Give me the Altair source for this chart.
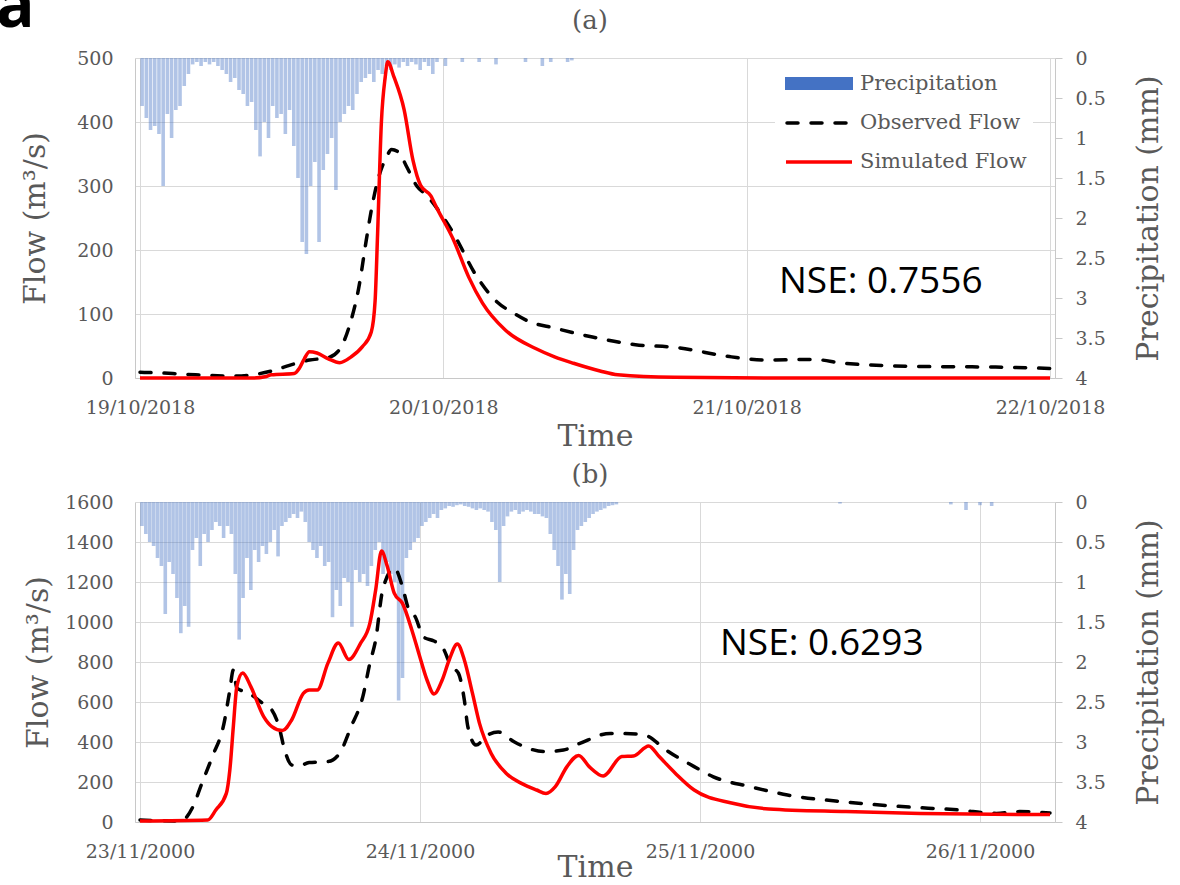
import altair as alt
import pandas as pd

# ---------------- data ----------------
# Precipitation depth (mm) in 20-minute steps, starting at the first day of each panel
rain_a = [
    0.6, 0.75, 0.9,  0.85, 0.95, 1.6,  0.7, 1.0, 0.65,  0.6, 0.35, 0.2,
    0.08, 0.05, 0.1,  0.05, 0.08, 0.05,  0.1, 0.15, 0.2,  0.3, 0.25, 0.4,
    0.45, 0.6, 0.55,  0.9, 1.23, 0.8,  1.0, 0.6, 0.75,  0.7, 0.95, 0.65,
    1.1, 1.5, 2.3,  2.45, 1.6, 1.3,  2.3, 1.4, 1.2,  1.0, 1.65, 0.8,
    0.7, 0.6, 0.65,  0.45, 0.3, 0.25,  0.2, 0.3, 0.15,  0.2, 0.1, 0.15,
    0.08, 0.12, 0.05,  0.1, 0.05, 0.08,  0.15, 0.05, 0.1,  0.2, 0.05, 0.0,
    0.1, 0.0, 0.0,  0.0, 0.05, 0.0,  0.0, 0.0, 0.05,  0.0, 0.0, 0.0,
    0.08, 0.0, 0.0,  0.0, 0.0, 0.0,  0.0, 0.05, 0.0,  0.0, 0.0, 0.1,
    0.0, 0.05, 0.0,  0.0, 0.0, 0.05,  0.03, 0.0, 0.0,
]
rain_b = [
    0.3, 0.4, 0.5,  0.55, 0.7, 0.8,  1.4, 0.75, 0.9,  1.2, 1.64, 1.3,
    1.56, 0.6, 0.45,  0.8, 0.4, 0.5,  0.35, 0.25, 0.3,  0.45, 0.3, 0.4,
    0.9, 1.72, 1.2,  0.7, 1.1, 0.6,  0.75, 0.55, 0.65,  0.5, 0.35, 0.68,
    0.3, 0.25, 0.2,  0.15, 0.2, 0.12,  0.25, 0.5, 0.6,  0.7, 0.55, 0.8,
    0.75, 1.44, 1.1,  1.3, 0.95, 1.0,  1.56, 0.85, 1.0,  0.9, 1.05, 0.8,
    0.6, 0.5, 0.9,  0.75, 0.9, 1.0,  2.48, 2.2, 0.7,  0.6, 0.5, 0.45,
    0.3, 0.25, 0.2,  0.15, 0.2, 0.1,  0.08, 0.05, 0.06,  0.04, 0.03, 0.05,
    0.06, 0.08, 0.1,  0.08, 0.1, 0.12,  0.25, 0.35, 1.0,  0.3, 0.18, 0.12,
    0.1, 0.15, 0.12,  0.1, 0.12, 0.15,  0.15, 0.18, 0.2,  0.4, 0.6, 0.8,
    1.22, 0.9, 1.15,  0.6, 0.35, 0.3,  0.25, 0.2, 0.15,  0.12, 0.1, 0.08,
    0.05, 0.04, 0.03,
]
# a few isolated late showers in panel (b): hour since start, mm
rain_b_late_h = [60.0, 69.5, 70.8, 72.0, 73.0]
rain_b_late_mm = [0.02, 0.03, 0.1, 0.04, 0.05]

# Flows (m3/s): hours since the first day of each panel
obs_a_h = [0, 2.6, 4.4, 7.4, 8.9, 10.4, 12.2, 13.4, 14.9, 15.8, 16.7, 17.3, 17.9, 18.3,
           18.9, 19.5, 19.9, 20.5, 21.1, 21.9, 22.7, 23.5, 24.8, 26.6, 28.3, 29.6, 30.7,
           32.8, 35.8, 39.2, 42.3, 46.8, 49.7, 53.3, 55.7, 61.7, 67.7, 72]
obs_a_q = [9, 7, 5, 3, 5, 11, 22, 28, 32, 45, 90, 140, 215, 262,
           315, 345, 357, 352, 330, 300, 285, 265, 226, 160, 118, 101, 89,
           78, 64, 52, 48, 33, 28, 29, 23, 18, 17, 15]
sim_a_h = [0, 8.9, 9.9, 10.4, 12.2, 12.6, 13.0, 13.4, 14.0, 14.9, 15.8, 16.7, 17.6,
           18.3, 18.6, 18.8, 19.1, 19.4, 19.6, 20.1, 20.9, 21.6, 22.2, 23.0, 23.5,
           24.8, 26.0, 27.1, 28.9, 31.3, 32.8, 34.3, 36.4, 37.8, 42.3, 50, 72]
sim_a_q = [0, 0, 2, 5, 7, 15, 30, 41, 39, 30, 24, 33, 49,
           72, 120, 226, 400, 470, 494, 470, 419, 340, 301, 285, 265,
           216, 158, 117, 75, 46, 33, 23, 11, 5, 1, 0, 0]
obs_b_h = [0, 3.5, 4.5, 5.3, 6.2, 7.2, 7.7, 8.0, 8.3, 9.3, 10.6, 11.3, 11.9, 12.4, 13.0,
           13.6, 14.5, 16.1, 17.1, 18.1, 19.1, 19.7, 20.2, 20.8, 21.8, 22.5, 23.0, 23.6,
           24.3, 25.2, 25.9, 26.7, 27.3, 27.8, 28.1, 28.8, 29.8, 30.7, 32.1, 33.3, 34.6,
           36.3, 37.7, 40.3, 42.6, 43.6, 44.9, 47.5, 49.1, 52.3, 55.5, 60.5, 65.3, 70.2,
           73.4, 75.4, 78]
obs_b_q = [10, 5, 72, 193, 327, 493, 660, 760, 670, 645, 590, 560, 480, 360, 285,
           280, 297, 302, 343, 477, 627, 793, 910, 1160, 1270, 1175, 1068, 1025,
           925, 905, 877, 777, 743, 610, 477, 385, 435, 450, 400, 368, 352,
           360, 393, 443, 440, 427, 368, 277, 227, 177, 135, 100, 77, 60,
           43, 52, 45]
sim_b_h = [0, 5.8, 6.5, 7.4, 7.7, 8.0, 8.3, 8.8, 9.5, 10.6, 11.3, 12.2, 13.0, 14.0, 14.5,
           15.2, 16.1, 17.0, 17.9, 18.9, 19.7, 20.2, 20.7, 21.2, 21.8, 22.5, 23.3, 23.9,
           24.6, 25.2, 25.9, 26.5, 27.2, 27.8, 28.5, 29.1, 30.1, 31.4, 32.7, 34.0, 34.8,
           35.6, 36.6, 37.6, 38.5, 39.7, 41.3, 42.3, 43.6, 44.5, 45.9, 47.5, 50.7, 53.9,
           60.5, 66.9, 78]
sim_b_q = [5, 10, 60, 143, 260, 477, 677, 745, 677, 527, 477, 457, 510, 643, 660,
           660, 793, 895, 812, 893, 993, 1160, 1355, 1277, 1143, 1093, 960, 843,
           710, 640, 710, 810, 890, 810, 643, 493, 343, 243, 193, 160, 143,
           177, 277, 333, 277, 230, 327, 330, 380, 327, 243, 160, 95, 65,
           52, 43, 37]

days_a = [(2018, 10, 19), (2018, 10, 20), (2018, 10, 21), (2018, 10, 22)]
days_b = [(2000, 11, 23), (2000, 11, 24), (2000, 11, 25), (2000, 11, 26)]
end_b = (2000, 11, 26, 6)
rain_ticks = [0, 0.5, 1, 1.5, 2, 2.5, 3, 3.5, 4]
legend_labels = ["Precipitation", "Observed Flow", "Simulated Flow"]
nse_a, nse_b = "NSE: 0.7556", "NSE: 0.6293"
tags = ["(a)", "(b)"]
corner_letter = "a"

# ---------------- style ----------------
SERIF = "DejaVu Serif"
GRAY = "#595959"
BLUE = "#4472C4"
W, H = 920, 320
DASH = [11, 13]


def rain_frame(start, values, extra_h=(), extra_mm=()):
    t0 = pd.Timestamp(start)
    rows = [(t0 + pd.Timedelta(minutes=20 * i + 10), v) for i, v in enumerate(values)]
    rows += [(t0 + pd.Timedelta(hours=h), v) for h, v in zip(extra_h, extra_mm)]
    df = pd.DataFrame(rows, columns=["t", "mm"])
    return df[df.mm > 0]


def flow_frame(start, hours, q):
    t0 = pd.Timestamp(start)
    return pd.DataFrame({"t": [t0 + pd.Timedelta(hours=h) for h in hours], "q": q})


one = pd.DataFrame({"k": [0]})


def dt(y, m, d, h=0):
    return alt.DateTime(year=y, month=m, date=d, hours=h)


def label(text, x, y, **kw):
    return alt.Chart(one).mark_text(text=text, **kw).encode(x=alt.value(x), y=alt.value(y))


def panel(days, end, rain_df, obs_df, sim_df, qmax, qstep, tag, tag_y,
          nse, nse_x, nse_y, time_y, flow_title_x, first):
    x = alt.X("t:T",
              scale=alt.Scale(domain=[dt(*days[0]), dt(*end)], nice=False),
              axis=alt.Axis(values=[dt(*d) for d in days], format="%d/%m/%Y",
                            labelFlush=False, labelOverlap=False, ticks=False, tickSize=0,
                            labelPadding=20, grid=True, title="Time",
                            titleY=time_y, titleBaseline="alphabetic"))
    bars = alt.Chart(rain_df).mark_bar(size=3.6, color=BLUE, opacity=0.42).encode(
        x=x,
        y=alt.Y("mm:Q", scale=alt.Scale(domain=[0, 4], reverse=True, nice=False),
                axis=alt.Axis(orient="right", values=rain_ticks, format="~g", grid=False,
                              ticks=True, tickSize=7, labelPadding=13,
                              title="Precipitation (mm)", titleX=93, titleY=H / 2,
                              titleAngle=270, titleAlign="center", titleBaseline="middle")))
    yflow = alt.Scale(domain=[0, qmax], nice=False)
    obs = alt.Chart(obs_df).mark_line(color="#000000", strokeWidth=3.5, strokeDash=DASH,
                                      strokeCap="round", interpolate="monotone").encode(
        x=x,
        y=alt.Y("q:Q", scale=yflow,
                axis=alt.Axis(orient="left", values=list(range(0, qmax + 1, qstep)),
                              format="d", grid=True, ticks=False, tickSize=0, labelPadding=22,
                              title="Flow (m³/s)", titleX=flow_title_x, titleY=H / 2,
                              titleAngle=270, titleAlign="center", titleBaseline="middle")))
    sim = alt.Chart(sim_df).mark_line(color="#ff0000", strokeWidth=3.5,
                                      interpolate="monotone").encode(
        x=x, y=alt.Y("q:Q", scale=yflow, axis=None))
    nse_t = label(nse, nse_x, nse_y, font="Open Sans", fontSize=37, color="#000000",
                  align="left", baseline="alphabetic")
    tag_t = label(tag, W / 2 - 5, tag_y, font=SERIF, fontSize=26, color=GRAY,
                  align="center", baseline="alphabetic")
    glyph = label(corner_letter, -139, -31 if first else 100, font="Open Sans", fontSize=64,
                  fontWeight="bold", color="#000000", opacity=1 if first else 0,
                  align="left", baseline="alphabetic")
    layers = [bars, obs, sim, nse_t, tag_t, glyph]
    if first:
        box = alt.Chart(one).mark_rect(color="white").encode(
            x=alt.value(640), x2=alt.value(898), y=alt.value(4), y2=alt.value(121))
        sw = alt.Chart(one).mark_rect(color=BLUE).encode(
            x=alt.value(650), x2=alt.value(718), y=alt.value(19), y2=alt.value(32))
        l1 = alt.Chart(one).mark_rule(color="#000000", strokeWidth=3.5, strokeDash=DASH,
                                      strokeCap="round").encode(
            x=alt.value(652), x2=alt.value(716), y=alt.value(65))
        l2 = alt.Chart(one).mark_rule(color="#ff0000", strokeWidth=3.5).encode(
            x=alt.value(651), x2=alt.value(717), y=alt.value(104))
        texts = [label(t, 725, yy, font=SERIF, fontSize=21, color=GRAY, align="left",
                       baseline="middle")
                 for t, yy in zip(legend_labels, [26, 65, 104])]
        layers += [box, sw, l1, l2] + texts
    return alt.layer(*layers).resolve_scale(y="independent").properties(width=W, height=H)


pa = panel(days_a, days_a[-1],
           rain_frame("2018-10-19", rain_a),
           flow_frame("2018-10-19", obs_a_h, obs_a_q),
           flow_frame("2018-10-19", sim_a_h, sim_a_q),
           500, 100, tags[0], -29, nse_a, 644, 235, 67, -100, True)
pb = panel(days_b, end_b,
           rain_frame("2000-11-23", rain_b, rain_b_late_h, rain_b_late_mm),
           flow_frame("2000-11-23", obs_b_h, obs_b_q),
           flow_frame("2000-11-23", sim_b_h, sim_b_q),
           1600, 200, tags[1], -19, nse_b, 585, 153, 54, -97, False)

chart = alt.vconcat(pa, pb, spacing=11).properties(
    padding={"left": -4, "top": -24, "right": 5, "bottom": 2},
    background="white",
).configure_view(stroke=None).configure_axis(
    labelFont=SERIF, labelFontSize=19, labelColor=GRAY,
    titleFont=SERIF, titleFontSize=30, titleColor=GRAY, titleFontWeight="normal",
    gridColor="#d9d9d9", gridWidth=1, domainColor="#c8c8c8", domainWidth=1,
    tickColor="#c8c8c8",
)

chart.save("out.html", embed_options={"renderer": "svg", "actions": False})
